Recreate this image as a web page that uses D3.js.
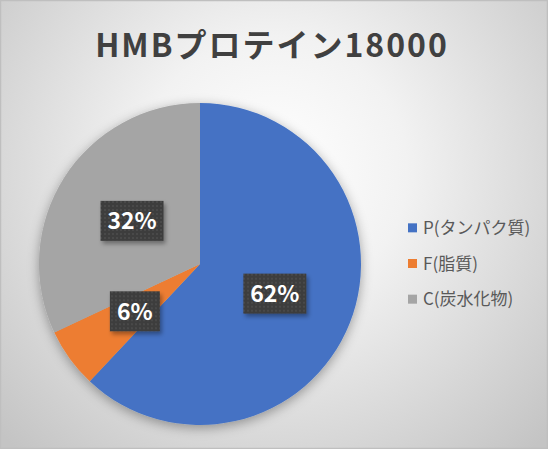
<!DOCTYPE html>
<html><head><meta charset="utf-8">
<script src="https://cdn.jsdelivr.net/npm/d3@7"></script>
<style>html,body{margin:0;padding:0;background:#fff;}svg{display:block;}</style>
</head><body>
<script>
const categories = ["P(タンパク質)", "F(脂質)", "C(炭水化物)"];
const values = [62, 6, 32];
const colors = ["#4472C4", "#ED7D31", "#A5A5A5"];
const title = "HMBプロテイン18000";

const W = 548, H = 449;
const svg = d3.select("body").append("svg").attr("width", W).attr("height", H);
const defs = svg.append("defs");

const rg = defs.append("radialGradient").attr("id", "bg")
  .attr("gradientUnits", "userSpaceOnUse")
  .attr("cx", 274).attr("cy", 170).attr("r", 380);
rg.append("stop").attr("offset", "0%").attr("stop-color", "#ffffff");
rg.append("stop").attr("offset", "35%").attr("stop-color", "#f2f2f2");
rg.append("stop").attr("offset", "100%").attr("stop-color", "#c4c4c4");

const sh = defs.append("filter").attr("id", "pieShadow")
  .attr("x", "-20%").attr("y", "-20%").attr("width", "140%").attr("height", "140%");
sh.append("feDropShadow").attr("dx", 0).attr("dy", 3).attr("stdDeviation", 6)
  .attr("flood-color", "#000").attr("flood-opacity", 0.35);

const bs = defs.append("filter").attr("id", "boxShadow")
  .attr("x", "-30%").attr("y", "-30%").attr("width", "160%").attr("height", "160%");
bs.append("feDropShadow").attr("dx", 2).attr("dy", 3).attr("stdDeviation", 2)
  .attr("flood-color", "#000").attr("flood-opacity", 0.35);

const pat = defs.append("pattern").attr("id", "dots")
  .attr("patternUnits", "userSpaceOnUse").attr("width", 4).attr("height", 4);
pat.append("rect").attr("width", 4).attr("height", 4).attr("fill", "#3c3c3c");
pat.append("rect").attr("x", 0).attr("y", 0).attr("width", 2).attr("height", 2).attr("fill", "#4a4a4a");

svg.append("rect").attr("x", 0.5).attr("y", 0.5).attr("width", W - 1).attr("height", H - 1)
  .attr("fill", "url(#bg)").attr("stroke", "#bfbfbf").attr("stroke-width", 1.5);

svg.append("text").attr("x", 272).attr("y", 57).attr("text-anchor", "middle")
  .attr("font-family", "'Noto Sans CJK JP', 'Noto Sans', sans-serif")
  .attr("font-weight", "bold").attr("font-size", 32).attr("letter-spacing", 2)
  .attr("fill", "#404040")
  .text(title);

const cx = 200, cy = 264, r = 161;
const pie = d3.pie().sort(null).value(d => d);
const arcs = pie(values);
const arc = d3.arc().innerRadius(0).outerRadius(r);

const g = svg.append("g").attr("transform", `translate(${cx},${cy})`);
g.append("g").attr("filter", "url(#pieShadow)")
  .selectAll("path").data(arcs).join("path")
  .attr("d", arc).attr("fill", (d, i) => colors[i]);

const fmt = d3.format(".0%");
const total = d3.sum(values);
const lbl = g.selectAll("g.lbl").data(arcs).join("g").attr("class", "lbl")
  .attr("transform", d => `translate(${arc.centroid(d)})`);
lbl.each(function(d) {
  const s = d3.select(this);
  const txt = fmt(d.value / total);
  const w = txt.length === 2 ? 50 : 63;
  s.append("rect").attr("x", -w / 2).attr("y", -20).attr("width", w).attr("height", 40)
    .attr("fill", "url(#dots)").attr("filter", "url(#boxShadow)");
  s.append("text").attr("text-anchor", "middle").attr("y", 8.5)
    .attr("font-family", "'Noto Sans CJK JP', 'Open Sans', sans-serif")
    .attr("font-weight", "bold").attr("font-size", 23).attr("fill", "#ffffff")
    .text(txt);
});

const leg = svg.append("g");
const ly = d3.scaleBand().domain(categories).range([210, 317]);
const items = leg.selectAll("g").data(categories).join("g")
  .attr("transform", d => `translate(408,${ly(d) + ly.bandwidth() / 2})`);
items.append("rect").attr("x", 0).attr("y", -4.5).attr("width", 9).attr("height", 9)
  .attr("fill", (d, i) => colors[i]);
items.append("text").attr("x", 15).attr("y", 6)
  .attr("font-family", "'Noto Sans CJK JP', sans-serif")
  .attr("font-size", 17).attr("fill", "#595959").text(d => d);
</script>
</body></html>
